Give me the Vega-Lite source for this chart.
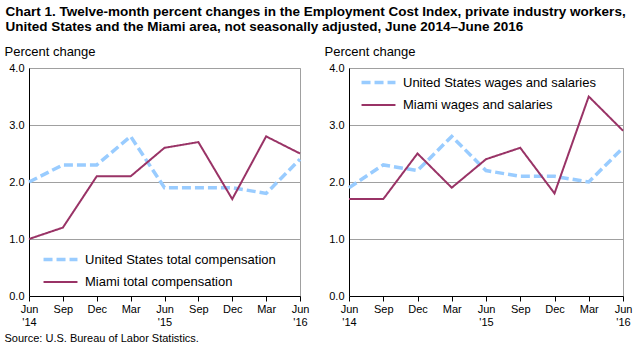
{
  "$schema": "https://vega.github.io/schema/vega-lite/v6.json",
  "background": "white",
  "padding": {"left": 3, "top": 5, "right": 5, "bottom": 5},
  "title": {
    "text": ["Chart 1. Twelve-month percent changes in the Employment Cost Index, private industry workers,", "United States and the Miami area, not seasonally adjusted, June 2014–June 2016"],
    "anchor": "start",
    "frame": "bounds",
    "dx": 2,
    "font": "Liberation Sans",
    "fontSize": 13.5,
    "fontWeight": "bold",
    "color": "black",
    "lineHeight": 15,
    "offset": 11
  },
  "datasets": {
    "total": [
      {"q": "2014-06", "series": "United States total compensation", "value": 2.0},
      {"q": "2014-09", "series": "United States total compensation", "value": 2.3},
      {"q": "2014-12", "series": "United States total compensation", "value": 2.3},
      {"q": "2015-03", "series": "United States total compensation", "value": 2.8},
      {"q": "2015-06", "series": "United States total compensation", "value": 1.9},
      {"q": "2015-09", "series": "United States total compensation", "value": 1.9},
      {"q": "2015-12", "series": "United States total compensation", "value": 1.9},
      {"q": "2016-03", "series": "United States total compensation", "value": 1.8},
      {"q": "2016-06", "series": "United States total compensation", "value": 2.4},
      {"q": "2014-06", "series": "Miami total compensation", "value": 1.0},
      {"q": "2014-09", "series": "Miami total compensation", "value": 1.2},
      {"q": "2014-12", "series": "Miami total compensation", "value": 2.1},
      {"q": "2015-03", "series": "Miami total compensation", "value": 2.1},
      {"q": "2015-06", "series": "Miami total compensation", "value": 2.6},
      {"q": "2015-09", "series": "Miami total compensation", "value": 2.7},
      {"q": "2015-12", "series": "Miami total compensation", "value": 1.7},
      {"q": "2016-03", "series": "Miami total compensation", "value": 2.8},
      {"q": "2016-06", "series": "Miami total compensation", "value": 2.5}
    ],
    "wages": [
      {"q": "2014-06", "series": "United States wages and salaries", "value": 1.9},
      {"q": "2014-09", "series": "United States wages and salaries", "value": 2.3},
      {"q": "2014-12", "series": "United States wages and salaries", "value": 2.2},
      {"q": "2015-03", "series": "United States wages and salaries", "value": 2.8},
      {"q": "2015-06", "series": "United States wages and salaries", "value": 2.2},
      {"q": "2015-09", "series": "United States wages and salaries", "value": 2.1},
      {"q": "2015-12", "series": "United States wages and salaries", "value": 2.1},
      {"q": "2016-03", "series": "United States wages and salaries", "value": 2.0},
      {"q": "2016-06", "series": "United States wages and salaries", "value": 2.6},
      {"q": "2014-06", "series": "Miami wages and salaries", "value": 1.7},
      {"q": "2014-09", "series": "Miami wages and salaries", "value": 1.7},
      {"q": "2014-12", "series": "Miami wages and salaries", "value": 2.5},
      {"q": "2015-03", "series": "Miami wages and salaries", "value": 1.9},
      {"q": "2015-06", "series": "Miami wages and salaries", "value": 2.4},
      {"q": "2015-09", "series": "Miami wages and salaries", "value": 2.6},
      {"q": "2015-12", "series": "Miami wages and salaries", "value": 1.8},
      {"q": "2016-03", "series": "Miami wages and salaries", "value": 3.5},
      {"q": "2016-06", "series": "Miami wages and salaries", "value": 2.9}
    ]
  },
  "spacing": 49,
  "bounds": "flush",
  "hconcat": [
    {
      "width": 271,
      "height": 228,
      "data": {"name": "total"},
      "mark": {"type": "line", "strokeCap": "butt", "strokeJoin": "miter"},
      "encoding": {
        "x": {
          "field": "q", "type": "ordinal", "sort": null,
          "scale": {"type": "point", "padding": 0},
          "axis": {
            "title": "Source: U.S. Bureau of Labor Statistics.",
            "titleAnchor": "start", "titleAlign": "left", "titleBaseline": "top",
            "titleX": -25, "titleY": 36,
            "titleFont": "Liberation Sans", "titleFontSize": 11, "titleFontWeight": "normal", "titleColor": "black",
            "labelExpr": "slice(datum.value,5)=='06' ? ['Jun', \"'\" + slice(datum.value,2,4)] : slice(datum.value,5)=='09' ? 'Sep' : slice(datum.value,5)=='12' ? 'Dec' : 'Mar'"
          }
        },
        "y": {
          "field": "value", "type": "quantitative",
          "scale": {"domain": [0, 4]},
          "axis": {"title": "Percent change", "values": [0, 1, 2, 3, 4], "format": ".1f",
            "titleAngle": 0, "titleAlign": "left", "titleBaseline": "middle", "titleX": -25, "titleY": -17}
        },
        "color": {
          "field": "series", "type": "nominal",
          "scale": {"domain": ["United States total compensation", "Miami total compensation"], "range": ["#99ccff", "#993366"]},
          "legend": {"title": null, "orient": "none", "legendX": 24, "legendY": 184,
            "encode": {"symbols": {"update": {"strokeWidth": {"signal": "indexof(datum.value,'Miami')>=0 ? 2.5 : 3.5"}}}}}
        },
        "strokeDash": {
          "field": "series", "type": "nominal",
          "scale": {"domain": ["United States total compensation", "Miami total compensation"], "range": [[9, 4], [1, 0]]},
          "legend": {"title": null, "orient": "none", "legendX": 24, "legendY": 184,
            "encode": {"symbols": {"update": {"strokeWidth": {"signal": "indexof(datum.value,'Miami')>=0 ? 2.5 : 3.5"}}}}}
        },
        "strokeWidth": {
          "field": "series", "type": "nominal",
          "scale": {"domain": ["United States total compensation", "Miami total compensation"], "range": [3.5, 2]},
          "legend": null
        }
      }
    },
    {
      "width": 274,
      "height": 228,
      "data": {"name": "wages"},
      "mark": {"type": "line", "strokeCap": "butt", "strokeJoin": "miter"},
      "encoding": {
        "x": {
          "field": "q", "type": "ordinal", "sort": null,
          "scale": {"type": "point", "padding": 0},
          "axis": {
            "title": null,
            "labelExpr": "slice(datum.value,5)=='06' ? ['Jun', \"'\" + slice(datum.value,2,4)] : slice(datum.value,5)=='09' ? 'Sep' : slice(datum.value,5)=='12' ? 'Dec' : 'Mar'"
          }
        },
        "y": {
          "field": "value", "type": "quantitative",
          "scale": {"domain": [0, 4]},
          "axis": {"title": "Percent change", "values": [0, 1, 2, 3, 4], "format": ".1f",
            "titleAngle": 0, "titleAlign": "left", "titleBaseline": "middle", "titleX": -25, "titleY": -17}
        },
        "color": {
          "field": "series", "type": "nominal",
          "scale": {"domain": ["United States wages and salaries", "Miami wages and salaries"], "range": ["#99ccff", "#993366"]},
          "legend": {"title": null, "orient": "none", "legendX": 22, "legendY": 7,
            "encode": {"symbols": {"update": {"strokeWidth": {"signal": "indexof(datum.value,'Miami')>=0 ? 2.5 : 3.5"}}}}}
        },
        "strokeDash": {
          "field": "series", "type": "nominal",
          "scale": {"domain": ["United States wages and salaries", "Miami wages and salaries"], "range": [[9, 4], [1, 0]]},
          "legend": {"title": null, "orient": "none", "legendX": 22, "legendY": 7,
            "encode": {"symbols": {"update": {"strokeWidth": {"signal": "indexof(datum.value,'Miami')>=0 ? 2.5 : 3.5"}}}}}
        },
        "strokeWidth": {
          "field": "series", "type": "nominal",
          "scale": {"domain": ["United States wages and salaries", "Miami wages and salaries"], "range": [3.5, 2]},
          "legend": null
        }
      }
    }
  ],
  "resolve": {
    "scale": {"color": "independent", "strokeDash": "independent", "strokeWidth": "independent", "x": "independent", "y": "independent"},
    "legend": {"color": "independent", "strokeDash": "independent", "strokeWidth": "independent"}
  },
  "config": {
    "font": "Liberation Sans",
    "view": {"stroke": "#a0a0a0", "strokeWidth": 1},
    "axis": {
      "labelFont": "Liberation Sans", "labelFontSize": 11, "labelColor": "black",
      "titleFont": "Liberation Sans", "titleFontSize": 13, "titleFontWeight": "normal", "titleColor": "black",
      "domainColor": "black", "domainWidth": 1,
      "tickColor": "black", "tickSize": 5, "tickWidth": 1
    },
    "axisX": {"labelAngle": 0, "grid": false, "labelPadding": 2, "labelLineHeight": 13, "labelBaseline": "top"},
    "axisY": {"grid": true, "gridColor": "#a0a0a0", "gridWidth": 1, "ticks": false, "labelPadding": 5},
    "legend": {
      "labelFont": "Liberation Sans", "labelFontSize": 13, "labelColor": "black", "labelLimit": 400,
      "symbolType": "M-3,0L3,0", "symbolSize": 128, "labelOffset": 17, "rowPadding": 8,
      "symbolStrokeWidth": 3
    }
  }
}
